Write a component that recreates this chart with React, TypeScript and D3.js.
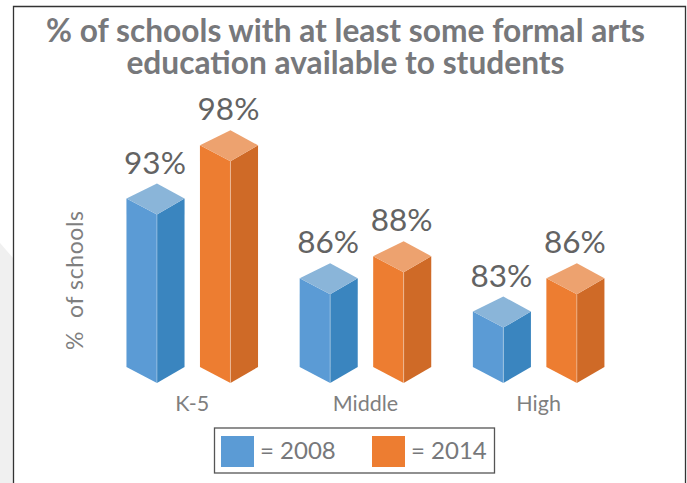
import React from "react";
import * as d3 from "d3";

const titleLines = ["% of schools with at least some formal arts", "education available to students"];
const yAxisLabel = "%  of schools";
const categories = ["K-5", "Middle", "High"];
const seriesNames = ["2008", "2014"];
const values2008 = [93.2, 86, 83];
const values2014 = [98, 88, 86];
const FONT = "Lato, 'Open Sans', sans-serif";

const faceColors = [
  { front: "#5B9BD5", side: "#3A85BF", top: "#8AB5D9" },
  { front: "#ED7D31", side: "#CF6A27", top: "#EDA26F" },
];

const x0 = d3.scaleBand<string>().domain(categories).range([105.65, 625.25]);
const x1 = d3.scaleBand<string>().domain(seriesNames).range([-73.5, 73.5]).paddingInner(0.21).paddingOuter(0.105);
const y = d3.scaleLinear().domain([78, 98]).range([367, 145.3]);
const pct = d3.format(".0f");
const poly = (pts: [number, number][]) => d3.line()(pts)! + "Z";

function Bar({ cat, s, i, v }: { cat: string; s: string; i: number; v: number }) {
  const cx = x0(cat)! + x0.bandwidth() / 2;
  const l = cx + x1(s)!;
  const w = x1.bandwidth();
  const m = l + w * 0.525;
  const r = l + w;
  const t = y(v);
  const b = y(78);
  const dy = 16;
  const back = 15;
  const c = faceColors[i];
  return (
    <g>
      <path d={poly([[l, t], [m, t + dy], [m, b + dy], [l, b]])} fill={c.front} />
      <path d={poly([[m, t + dy], [r, t], [r, b], [m, b + dy]])} fill={c.side} />
      <path d={poly([[l, t], [m, t - back], [r, t], [m, t + dy]])} fill={c.top} />
      <line x1={m} x2={m} y1={t + dy} y2={b + dy} stroke="#fff" strokeOpacity={0.35} />
      <text x={l + w / 2 - 0.5} y={t - 25} textAnchor="middle" fontFamily={FONT} fontSize={31.5} fill="#636363">
        {pct(v)}%
      </text>
    </g>
  );
}

export default function App() {
  return (
    <svg width={687} height={483} style={{ position: "absolute", left: 0, top: 0, background: "#fff" }}>
      <path d={poly([[0, 243], [13, 258], [13, 483], [0, 483]])} fill="#F0F0F0" />
      <path d={d3.line()([[13.5, 483], [13.5, 6.5], [685.5, 6.5], [685.5, 483]])!} fill="#fff" stroke="#333" strokeWidth={1.3} />
      {titleLines.map((t, i) => (
        <text key={t} x={345.5} y={42 + i * 32} textAnchor="middle" fontFamily={FONT} fontWeight={700} fontSize={31.7} fill="#77787B">
          {t}
        </text>
      ))}
      <text transform="translate(83,350) rotate(-90)" fontFamily={FONT} fontSize={23} letterSpacing={0.6} fill="#7F7F7F" xmlSpace="preserve">
        {yAxisLabel}
      </text>
      {categories.map((c, ci) => (
        <g key={c}>
          <Bar cat={c} s={seriesNames[0]} i={0} v={values2008[ci]} />
          <Bar cat={c} s={seriesNames[1]} i={1} v={values2014[ci]} />
          <text x={x0(c)! + x0.bandwidth() / 2} y={411} textAnchor="middle" fontFamily={FONT} fontSize={21.5} fill="#7F7F7F">
            {c}
          </text>
        </g>
      ))}
      <rect x={214.5} y={428} width={280} height={45} fill="#fff" stroke="#555" strokeWidth={1.3} />
      {seriesNames.map((s, i) => {
        const lx = i === 0 ? 221 : 372;
        return (
          <g key={s}>
            <rect x={lx} y={436} width={33} height={31} fill={faceColors[i].front} />
            <text x={lx + 39} y={459} fontFamily={FONT} fontSize={24} fill="#77787B">
              = {s}
            </text>
          </g>
        );
      })}
    </svg>
  );
}
